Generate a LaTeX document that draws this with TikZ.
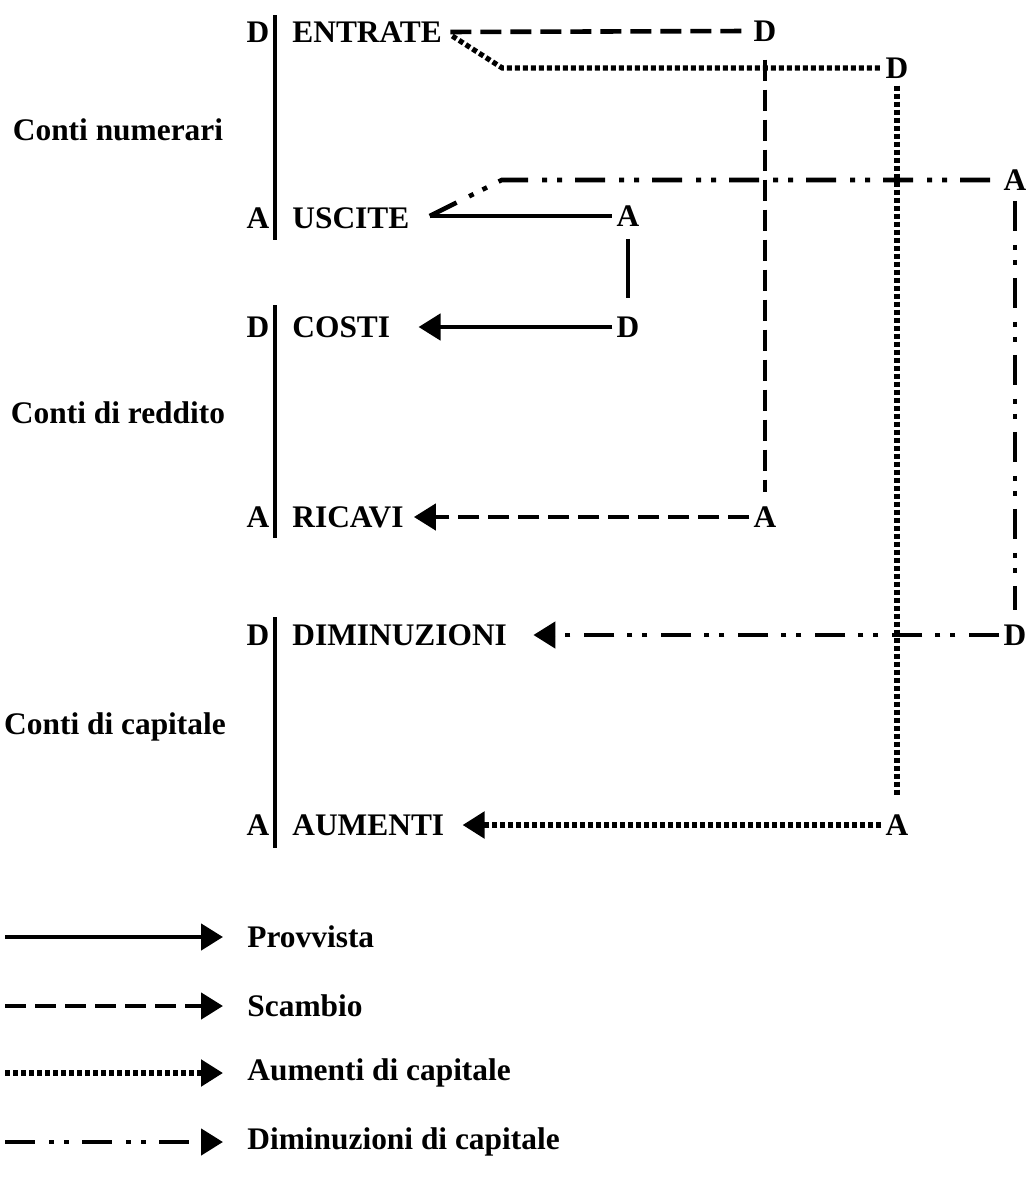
\documentclass[tikz,border=0pt]{standalone}
\usepackage{fontspec}
\setmainfont{Liberation Serif}
\usepackage{tikz}
\usetikzlibrary{calc}
\usetikzlibrary{arrows.meta}
\usetikzlibrary{positioning}
\tikzset{lbl/.style={font=\fontsize{15.7}{18}\selectfont\bfseries,inner sep=2pt}}
\tikzset{bar/.style={line width=2pt}}
\tikzset{provvista/.style={line width=2.3pt}}
\tikzset{scambio/.style={line width=2.3pt,dash pattern=on 10.5pt off 4.5pt}}
\tikzset{aumenti/.style={line width=2.6pt,dash pattern=on 2.5pt off 1.5pt}}
\tikzset{diminuzioni/.style={line width=2.3pt,dash pattern=on 15pt off 7pt on 2.5pt off 5pt on 2.5pt off 6.5pt}}
\tikzset{tip/.style={-{Triangle[length=11pt,width=13pt]}}}
\begin{document}
\begin{tikzpicture}[x=0.5pt,y=-0.5pt]
\useasboundingbox (0,0) rectangle (1027,1178);
\foreach \i/\t/\b in {1/15/240,2/305/538,3/617/848} {
	\draw[bar] (275,\t) -- (275,\b);
}
\node[lbl] (gN) at (118,130) {Conti numerari};
\node[lbl] (gR) at (118,413) {Conti di reddito};
\node[lbl] (gC) at (115,727) {Conti di capitale};
\foreach \n/\l/\y in {e/D/32,u/A/218,c/D/327,r/A/517,d/D/635,a/A/825} {
	\node[lbl] (s\n) at (258,\y) {\l};
}
\node[lbl,anchor=west] (entrate) at (288,32) {ENTRATE};
\node[lbl,anchor=west] (uscite) at (288,218) {USCITE};
\node[lbl,anchor=west] (costi) at (288,327) {COSTI};
\node[lbl,anchor=west] (ricavi) at (288,517) {RICAVI};
\node[lbl,anchor=west] (diminuzioni) at (288,635) {DIMINUZIONI};
\node[lbl,anchor=west] (aumenti) at (288,825) {AUMENTI};
% estremi a destra
\node[lbl] (dS) at (765,31) {D};
\node[lbl] (aS) at (765,517) {A};
\node[lbl] (dA) at (897,68) {D};
\node[lbl] (aA) at (897,825) {A};
\node[lbl] (aD) at (1015,180) {A};
\node[lbl] (dD) at (1015,635) {D};
\node[lbl] (aP) at (628,216) {A};
\node[lbl] (dP) at (628,327) {D};
\coordinate (uE) at ([xshift=8pt,yshift=1pt]uscite.east);
% scambio
\draw[scambio, shorten <=2pt] (entrate.east) -- (dS.west);
\draw[scambio, shorten <=7pt, shorten >=5pt] (dS.south) -- (aS.north);
\draw[scambio, tip] (aS.west) -- ([xshift=3pt]ricavi.east);
% aumenti di capitale
\draw[aumenti] ([xshift=3pt,yshift=-2pt]entrate.east) -- ++(50,32) -- (dA.west);
\draw[aumenti, shorten <=1.5pt, shorten >=7pt] (dA.south) -- (aA.north);
\draw[aumenti, tip] (aA.west) -- ([xshift=7pt]aumenti.east);
% diminuzioni di capitale
\draw[diminuzioni] (uE) -- ++(72,-36) -- (aD.west);
\draw[diminuzioni, shorten <=3pt, shorten >=5pt] (aD.south) -- (dD.north);
\draw[diminuzioni, tip] (dD.west) -- ([xshift=11pt]diminuzioni.east);
% provvista
\draw[provvista] (uE) -- (aP.west);
\draw[provvista, shorten <=4pt, shorten >=7pt] (aP.south) -- (dP.north);
\draw[provvista, tip] (dP.west) -- ([xshift=12pt]costi.east);
% legenda
\foreach \s/\t/\y in {provvista/Provvista/937,scambio/Scambio/1006,aumenti/Aumenti di capitale/1073,diminuzioni/Diminuzioni di capitale/1142} {
	\coordinate (l\s) at (5,\y);
	\node[lbl,anchor=west] (t\s) at (243,\y) {\t};
	\draw[\s, tip] (l\s) -- ([xshift=-10pt]t\s.west);
}
\end{tikzpicture}
\end{document}
